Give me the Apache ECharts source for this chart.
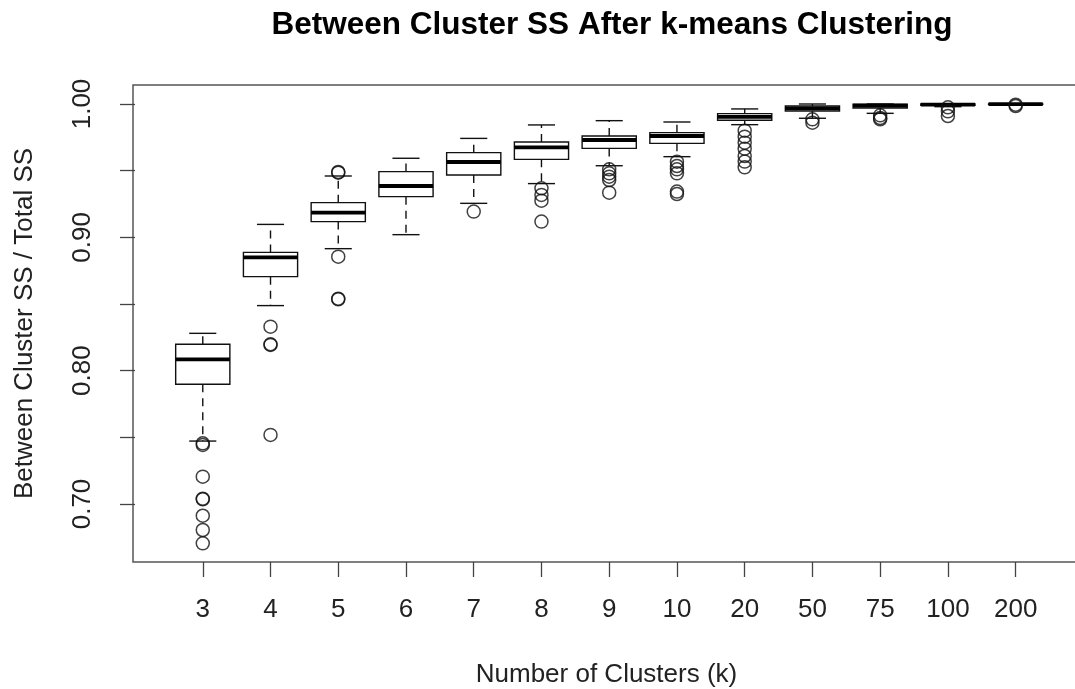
<!DOCTYPE html>
<html>
<head>
<meta charset="utf-8">
<script src="https://cdn.jsdelivr.net/npm/echarts@6/dist/echarts.min.js"></script>
<style>
html,body{margin:0;padding:0;background:#fff;}
#chart{width:1075px;height:689px;}
</style>
</head>
<body>
<div id="chart"></div>
<script>
var categories = ['3','4','5','6','7','8','9','10','20','50','75','100','200'];
var lowerWhisker = [0.7472, 0.8488, 0.8915, 0.9020, 0.9255, 0.9403, 0.9537, 0.9605, 0.9845, 0.9893, 0.9930, 0.9980, 0.9997];
var q1 =           [0.7898, 0.8705, 0.9118, 0.9305, 0.9468, 0.9585, 0.9667, 0.9705, 0.9878, 0.9948, 0.9970, 0.9990, 0.9998];
var median =       [0.8085, 0.8850, 0.9185, 0.9385, 0.9565, 0.9675, 0.9730, 0.9760, 0.9903, 0.9967, 0.9988, 0.9995, 0.9999];
var q3 =           [0.8198, 0.8887, 0.9260, 0.9493, 0.9635, 0.9715, 0.9760, 0.9785, 0.9928, 0.9985, 0.9998, 1.0000, 1.0000];
var upperWhisker = [0.8280, 0.9097, 0.9460, 0.9593, 0.9742, 0.9843, 0.9875, 0.9865, 0.9963, 1.0000, 1.0000, 1.0000, 1.0000];
var outliers = [
  [0.7443, 0.7455, 0.7205, 0.7035, 0.7040, 0.6912, 0.6805, 0.6705],
  [0.8330, 0.8193, 0.8198, 0.7518],
  [0.9485, 0.9490, 0.8855, 0.8535, 0.8540],
  [],
  [0.9193],
  [0.9368, 0.9318, 0.9275, 0.9118],
  [0.9510, 0.9480, 0.9455, 0.9430, 0.9335],
  [0.9567, 0.9535, 0.9510, 0.9480, 0.9343, 0.9325],
  [0.9800, 0.9755, 0.9710, 0.9665, 0.9610, 0.9568, 0.9525],
  [0.9885, 0.9860],
  [0.9915, 0.9895, 0.9885],
  [0.9975, 0.9945, 0.9910],
  [0.9995, 0.9985]
];
var yTicks = [0.70, 0.75, 0.80, 0.85, 0.90, 0.95, 1.00];
var yLabels = [0.70, 0.80, 0.90, 1.00];

var boxData = categories.map(function (c, i) {
  return [i + 1, lowerWhisker[i], q1[i], median[i], q3[i], upperWhisker[i]];
});
var outlierData = [];
outliers.forEach(function (arr, i) {
  arr.forEach(function (v) { outlierData.push([i + 1, v]); });
});
var xPositions = categories.map(function (c, i) { return i + 1; });

var INK = '#111';
var FONT = 'Liberation Sans, Arial, Helvetica, sans-serif';

function renderBox(params, api) {
  var x = api.value(0);
  var pLow = api.coord([x, api.value(1)]);
  var pQ1 = api.coord([x, api.value(2)]);
  var pMed = api.coord([x, api.value(3)]);
  var pQ3 = api.coord([x, api.value(4)]);
  var pHigh = api.coord([x, api.value(5)]);
  var half = api.size([0.4, 0])[0];
  var staple = api.size([0.2, 0])[0];
  var cx = pMed[0];
  var dash = {stroke: INK, lineWidth: 1.4, lineDash: [8, 6]};
  var solid = {stroke: INK, lineWidth: 1.4};
  return {
    type: 'group',
    children: [
      {type: 'line', shape: {x1: cx, y1: pQ3[1], x2: cx, y2: pHigh[1]}, style: dash},
      {type: 'line', shape: {x1: cx, y1: pQ1[1], x2: cx, y2: pLow[1]}, style: dash},
      {type: 'line', shape: {x1: cx - staple, y1: pHigh[1], x2: cx + staple, y2: pHigh[1]}, style: solid},
      {type: 'line', shape: {x1: cx - staple, y1: pLow[1], x2: cx + staple, y2: pLow[1]}, style: solid},
      {type: 'rect', shape: {x: cx - half, y: pQ3[1], width: 2 * half, height: pQ1[1] - pQ3[1]},
        style: {fill: '#fff', stroke: INK, lineWidth: 1.4}},
      {type: 'line', shape: {x1: cx - half, y1: pMed[1], x2: cx + half, y2: pMed[1]},
        style: {stroke: '#000', lineWidth: 3.8}}
    ]
  };
}

var chart = echarts.init(document.getElementById('chart'), null, {renderer: 'canvas'});
chart.setOption({
  animation: false,
  backgroundColor: '#fff',
  title: {
    text: 'Between Cluster SS After k-means Clustering',
    left: 607, top: 4, textAlign: 'center',
    textStyle: {fontFamily: FONT, fontWeight: 'bold', fontSize: 31.5, color: '#000'}
  },
  grid: {
    left: 133, right: -5, top: 85, bottom: 127,
    containLabel: false, outerBoundsMode: 'none',
    show: true, borderColor: '#555', borderWidth: 1.5, backgroundColor: '#fff'
  },
  xAxis: {
    type: 'value', min: -0.03, max: 13.95,
    name: 'Number of Clusters (k)', nameLocation: 'middle', nameGap: 100,
    nameTextStyle: {fontFamily: FONT, fontSize: 26, color: '#222'},
    axisLine: {show: false},
    splitLine: {show: false},
    axisTick: {show: true, length: 15, customValues: xPositions, lineStyle: {color: '#444', width: 1.3}},
    axisLabel: {
      customValues: xPositions, margin: 35,
      fontFamily: FONT, fontSize: 26, color: '#222',
      formatter: function (v) { return categories[Math.round(v) - 1]; }
    }
  },
  yAxis: {
    type: 'value', min: 0.6565, max: 1.01425,
    name: 'Between Cluster SS / Total SS', nameLocation: 'middle', nameRotate: 90, nameGap: 95,
    nameTextStyle: {fontFamily: FONT, fontSize: 26, color: '#222'},
    axisLine: {show: false},
    splitLine: {show: false},
    axisTick: {show: true, length: 15, customValues: yTicks, lineStyle: {color: '#444', width: 1.3}},
    axisLabel: {
      customValues: yLabels, rotate: 90, margin: 37,
      fontFamily: FONT, fontSize: 26, color: '#222',
      formatter: function (v) { return v.toFixed(2); }
    }
  },
  series: [
    {
      type: 'custom', renderItem: renderBox, data: boxData,
      encode: {x: 0, y: [1, 2, 3, 4, 5]}, z: 2, clip: false
    },
    {
      type: 'scatter', data: outlierData, symbol: 'circle', symbolSize: 13, z: 3,
      itemStyle: {color: 'rgba(0,0,0,0)', borderColor: '#111', borderWidth: 1.5}
    }
  ]
});
</script>
</body>
</html>
